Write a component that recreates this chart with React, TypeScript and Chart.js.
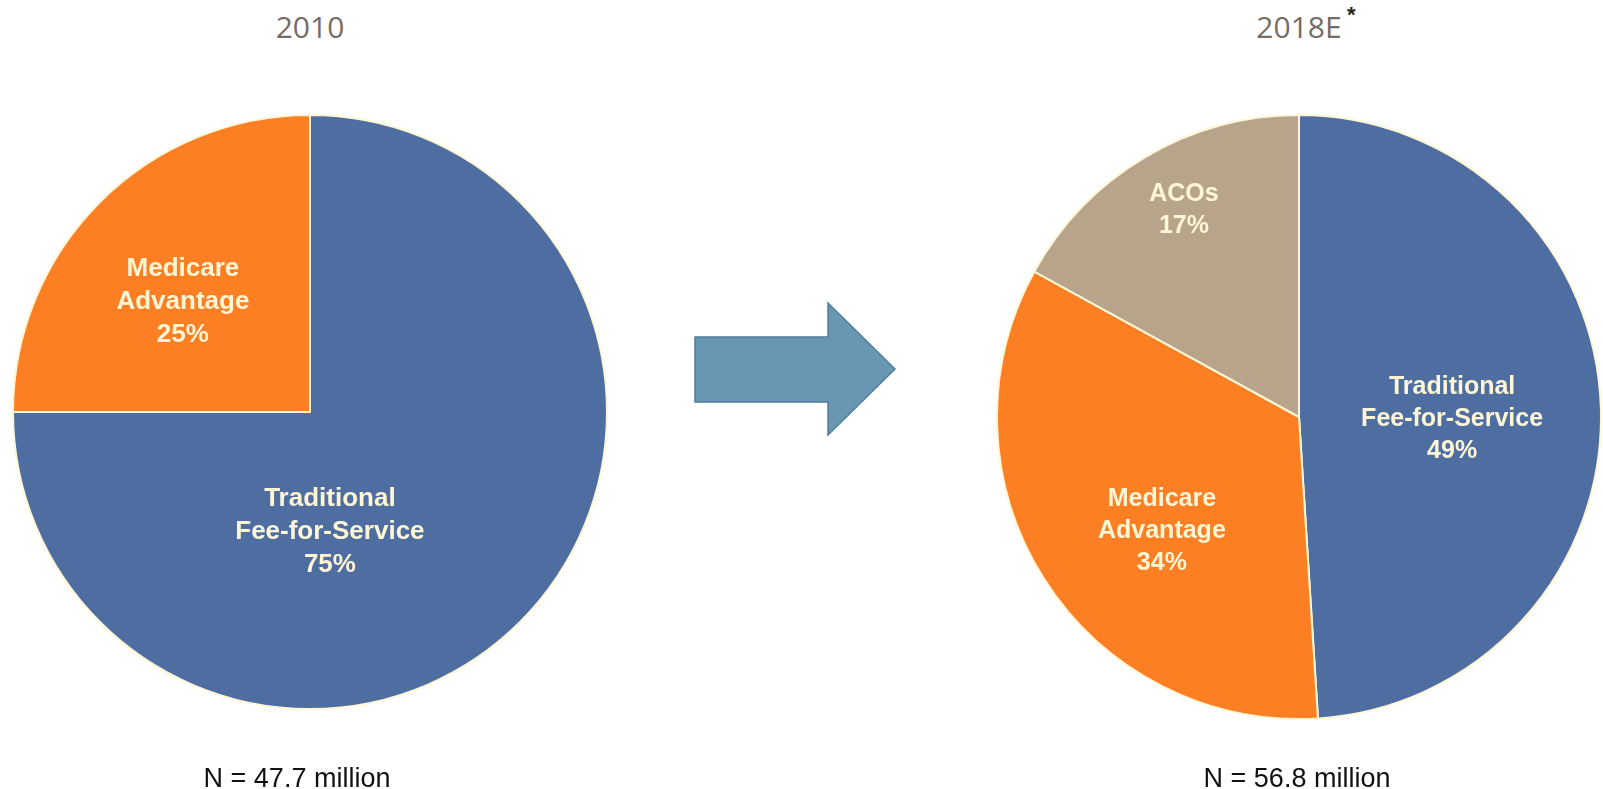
import React, { useEffect, useRef } from "react";
import { Chart, registerables } from "chart.js";

Chart.register(...registerables);

// ---- data ----
const leftTitle = "2010";
const rightTitle = "2018E";
const leftCategories = ["Traditional\nFee-for-Service", "Medicare\nAdvantage"];
const leftValues = [75, 25];
const rightCategories = ["Traditional\nFee-for-Service", "Medicare\nAdvantage", "ACOs"];
const rightValues = [49, 34, 17];
const leftNote = "N = 47.7 million";
const rightNote = "N = 56.8 million";

const BLUE = "#4E6EA1";
const ORANGE = "#FC7F24";
const TAN = "#B8A48A";
const CREAM = "#FFF6D6";

const sliceLabelPlugin = {
  id: "sliceLabels",
  afterDatasetsDraw(chart: any, _args: any, opts: any) {
    const ctx = chart.ctx;
    const meta = chart.getDatasetMeta(0);
    const ds = chart.data.datasets[0];
    const anchors = opts.anchors || [];
    ctx.save();
    ctx.fillStyle = opts.color || CREAM;
    ctx.font = `bold ${opts.size}px "Liberation Sans", Arial, sans-serif`;
    ctx.textAlign = "center";
    ctx.textBaseline = "alphabetic";
    meta.data.forEach((arc: any, i: number) => {
      const a = anchors[i] || [0, 0];
      const r = arc.outerRadius;
      const cx = arc.x + a[0] * r;
      const cy = arc.y + a[1] * r;
      const lines = String(chart.data.labels[i]).split("\n");
      lines.push(ds.data[i] + "%");
      const lh = opts.lineHeight;
      const capH = opts.size * 0.716;
      const total = (lines.length - 1) * lh + capH;
      const firstBase = cy - total / 2 + capH;
      lines.forEach((ln: string, k: number) => {
        ctx.fillText(ln, cx, firstBase + k * lh);
      });
    });
    ctx.restore();
  },
};

function PieChart(props: {
  labels: string[];
  values: number[];
  colors: string[];
  radius: number;
  size: number;
  anchors: number[][];
  fontSize: number;
  lineHeight: number;
}) {
  const ref = useRef<HTMLCanvasElement | null>(null);
  useEffect(() => {
    if (!ref.current) return;
    const chart = new Chart(ref.current, {
      type: "pie",
      data: {
        labels: props.labels,
        datasets: [
          {
            data: props.values,
            backgroundColor: props.colors,
            borderColor: CREAM,
            borderWidth: 2,
          },
        ],
      },
      options: {
        responsive: false,
        animation: false,
        radius: props.radius,
        layout: { padding: 0 },
        plugins: {
          legend: { display: false },
          tooltip: { enabled: false },
          sliceLabels: {
            anchors: props.anchors,
            size: props.fontSize,
            lineHeight: props.lineHeight,
            color: CREAM,
          },
        } as any,
      } as any,
      plugins: [sliceLabelPlugin],
    });
    return () => chart.destroy();
  }, []);
  return <canvas ref={ref} width={props.size} height={props.size} style={{ display: "block" }} />;
}

export default function App() {
  const titleStyle: React.CSSProperties = {
    position: "absolute",
    top: 12,
    width: 300,
    textAlign: "center",
    fontFamily: '"Open Sans", sans-serif',
    fontSize: 30,
    lineHeight: "30px",
    color: "#776C64",
    whiteSpace: "nowrap",
  };
  const noteStyle: React.CSSProperties = {
    position: "absolute",
    top: 765,
    width: 400,
    textAlign: "center",
    fontFamily: '"Liberation Sans", Arial, sans-serif',
    fontSize: 27,
    lineHeight: "27px",
    color: "#111111",
    whiteSpace: "nowrap",
  };
  return (
    <div
      style={{
        position: "absolute",
        left: 0,
        top: 0,
        width: 1603,
        height: 789,
        overflow: "hidden",
        background: "#ffffff",
      }}
    >
      <div style={{ ...titleStyle, left: 310 - 150 }}>{leftTitle}</div>
      <div style={{ ...titleStyle, left: 1299 - 150 }}>{rightTitle}</div>
      <div
        style={{
          position: "absolute",
          left: 1347,
          top: 4,
          fontFamily: '"Liberation Sans", Arial, sans-serif',
          fontWeight: "bold",
          fontSize: 22,
          lineHeight: "22px",
          color: "#222222",
        }}
      >
        *
      </div>

      <div style={{ position: "absolute", left: 0, top: 102 }}>
        <PieChart
          labels={leftCategories}
          values={leftValues}
          colors={[BLUE, ORANGE]}
          radius={297}
          size={620}
          anchors={[
            [0.067, 0.397],
            [-0.428, -0.377],
          ]}
          fontSize={26}
          lineHeight={33}
        />
      </div>

      <div style={{ position: "absolute", left: 995, top: 113 }}>
        <PieChart
          labels={rightCategories}
          values={rightValues}
          colors={[BLUE, ORANGE, TAN]}
          radius={302}
          size={608}
          anchors={[
            [0.507, 0.0],
            [-0.454, 0.372],
            [-0.381, -0.692],
          ]}
          fontSize={25}
          lineHeight={32}
        />
      </div>

      <svg
        width={1603}
        height={789}
        style={{ position: "absolute", left: 0, top: 0, pointerEvents: "none" }}
      >
        <polygon
          points="695,337 828,337 828,303 895,369 828,435 828,402 695,402"
          fill="#6797B2"
          stroke="#527F9A"
          strokeWidth={1.5}
        />
      </svg>

      <div style={{ ...noteStyle, left: 297 - 200 }}>{leftNote}</div>
      <div style={{ ...noteStyle, left: 1297 - 200 }}>{rightNote}</div>
    </div>
  );
}
